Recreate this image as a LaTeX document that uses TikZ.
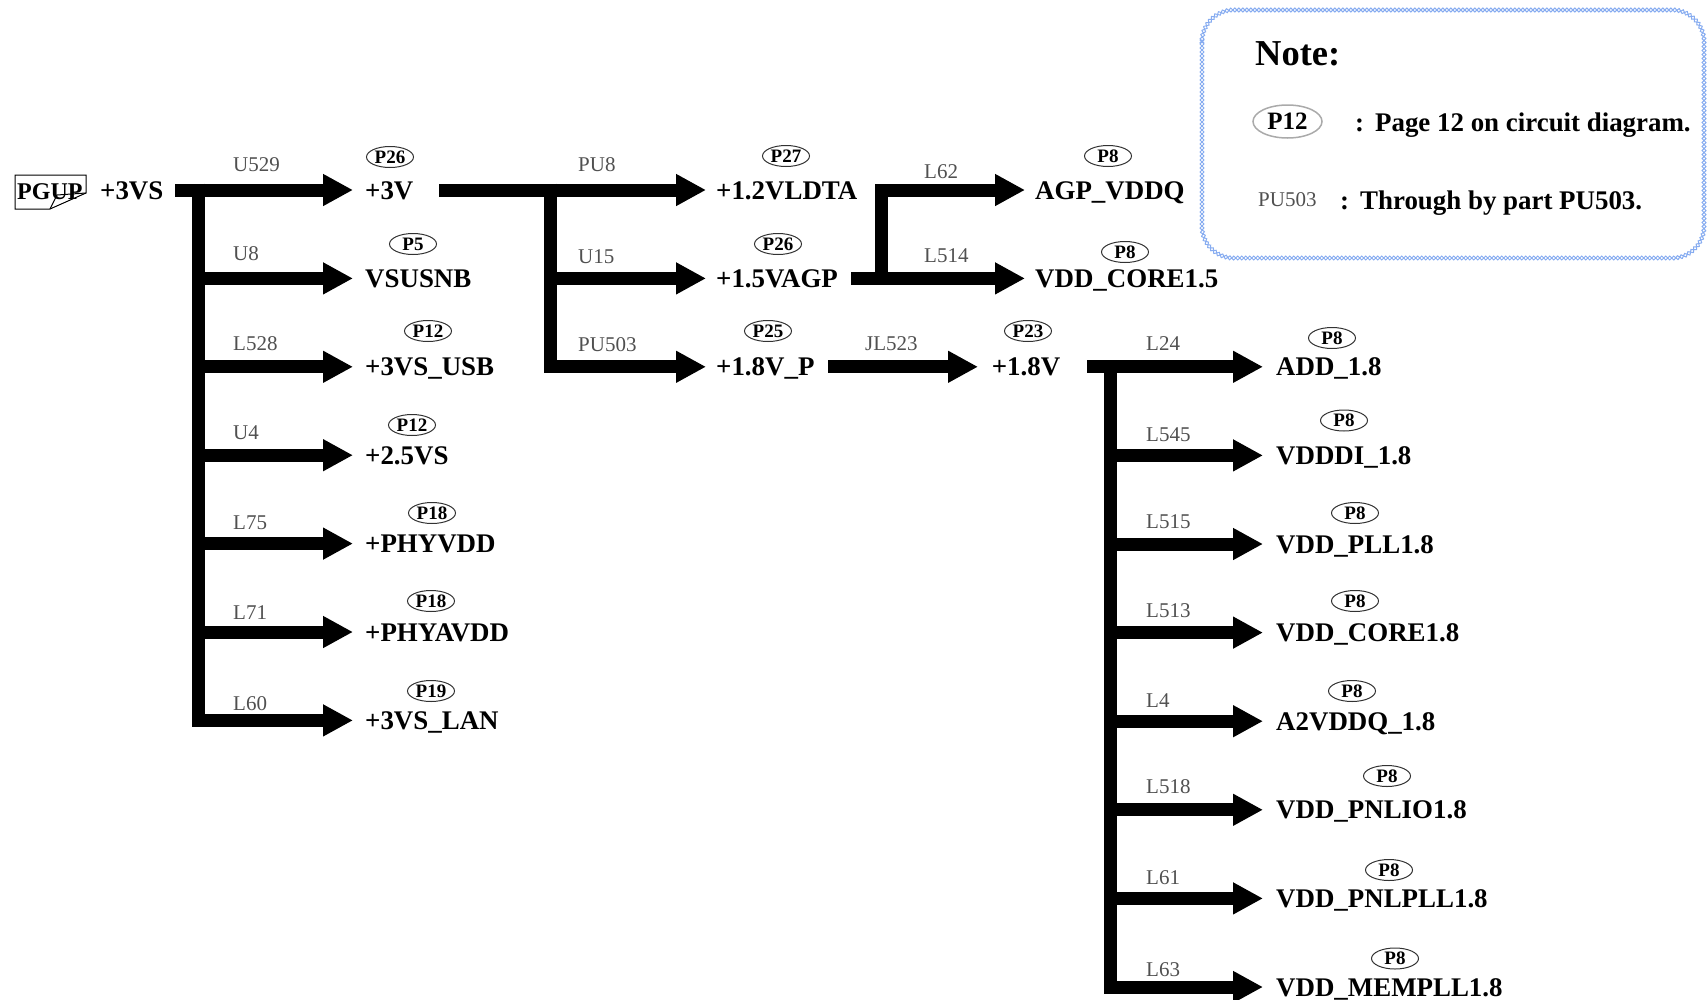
\documentclass[tikz,border=0pt]{standalone}
\usepackage{fontspec}
\setmainfont{Liberation Serif}
\usetikzlibrary{arrows.meta,shapes.geometric,decorations.shapes}
\definecolor{labgray}{RGB}{80,80,80}
\definecolor{notebl}{RGB}{135,172,240}
\definecolor{tagln}{RGB}{50,50,50}
\definecolor{notegray}{RGB}{170,170,170}
\begin{document}
\begin{tikzpicture}[x=1pt,y=-1pt,
  bar/.style={line width=13pt},
  arr/.style={line width=13pt,-{Triangle[length=30pt,width=30pt]}},
  tgt/.style={anchor=west,inner sep=0pt,text height=18pt,text depth=0pt,font=\fontsize{26.9}{30}\selectfont\bfseries},
  lab/.style={anchor=west,inner sep=0pt,text height=14pt,text depth=0pt,text=labgray,font=\fontsize{21}{24}\selectfont},
  tag/.style={ellipse,draw=tagln,line width=1pt,inner sep=0pt,minimum width=47pt,minimum height=21pt,font=\fontsize{19}{20}\selectfont\bfseries}]
\useasboundingbox (0,0) rectangle (1708,999);

% ---------- source ----------
\draw[line width=1pt] (15,175) -- (86,175) -- (86,193) -- (50,209) -- (15,209) -- cycle;
\draw[line width=1pt] (50,209) -- (57,195) -- (86,193);
\node[tgt,font=\fontsize{24}{26}\selectfont\bfseries,text height=16pt] (pgup) at (17,191) {PGUP};
\node[tgt] (vs) at (100,190) {+3VS};
\coordinate (s1) at (175,190);
\coordinate (j1) at (198,190);

% ---------- column 1 ----------
\node[tgt] (a1) at (365,190) {+3V};
\node[tgt] (a2) at (365,278.4) {VSUSNB};
\node[tgt] (a3) at (365,366.8) {+3VS\_USB};
\node[tgt] (a4) at (365,455.2) {+2.5VS};
\node[tgt] (a5) at (365,543.6) {+PHYVDD};
\node[tgt] (a6) at (365,632) {+PHYAVDD};
\node[tgt] (a7) at (365,720.4) {+3VS\_LAN};
\draw[bar] (198,183.5) -- (198,726.9);
\draw[arr] (s1) -- ([xshift=-12pt]a1.west);
\foreach \n in {a2,a3,a4,a5,a6,a7}
  \draw[arr] (j1 |- \n.west) -- ([xshift=-12pt]\n.west);
\node[lab] (la1) at (233,164) {U529};
\node[lab] (la2) at (233,253) {U8};
\node[lab] (la3) at (233,343) {L528};
\node[lab] (la4) at (233,432) {U4};
\node[lab] (la5) at (233,522) {L75};
\node[lab] (la6) at (233,612) {L71};
\node[lab] (la7) at (233,703) {L60};
\node[tag] (ta1) at (390,157) {P26};
\node[tag] (ta2) at (413,244) {P5};
\node[tag] (ta3) at (428,331) {P12};
\node[tag] (ta4) at (412,425) {P12};
\node[tag] (ta5) at (432,513) {P18};
\node[tag] (ta6) at (431,601) {P18};
\node[tag] (ta7) at (431,691) {P19};

% ---------- column 2 ----------
\coordinate (s2) at (439,190);
\coordinate (j2) at (550.5,190);
\node[tgt] (b1) at (716,190) {+1.2VLDTA};
\node[tgt] (b2) at (716,278.4) {+1.5VAGP};
\node[tgt] (b3) at (716,366.8) {+1.8V\_P};
\draw[bar] (550.5,183.5) -- (550.5,373.3);
\draw[arr] (s2) -- ([xshift=-10pt]b1.west);
\draw[arr] (j2 |- b2.west) -- ([xshift=-10pt]b2.west);
\draw[arr] (j2 |- b3.west) -- ([xshift=-10pt]b3.west);
\node[lab] (lb1) at (578,164) {PU8};
\node[lab] (lb2) at (578,256) {U15};
\node[lab] (lb3) at (578,344) {PU503};
\node[tag] (tb1) at (786,156) {P27};
\node[tag] (tb2) at (778,244) {P26};
\node[tag] (tb3) at (768,331) {P25};

% ---------- column 3 ----------
\coordinate (s3) at (851,278.4);
\coordinate (j3) at (881.5,190);
\node[tgt] (c1) at (1035,190) {AGP\_VDDQ};
\node[tgt] (c2) at (1035,278.4) {VDD\_CORE1.5};
\draw[bar] (881.5,284.9) -- (881.5,183.5);
\draw[arr] (s3) -- ([xshift=-10pt]c2.west);
\draw[arr] (j3) -- ([xshift=-10pt]c1.west);
\node[lab] (lc1) at (924,171) {L62};
\node[lab] (lc2) at (924,255) {L514};
\node[tag] (tc1) at (1108,156) {P8};
\node[tag] (tc2) at (1125,252) {P8};

% ---------- +1.8V ----------
\coordinate (s4) at (828,366.8);
\node[tgt] (d1) at (991.7,366.8) {+1.8V};
\draw[arr] (s4) -- ([xshift=-13.7pt]d1.west);
\node[lab] (ld1) at (865,343) {JL523};
\node[tag] (td1) at (1028,331) {P23};

% ---------- column 4 ----------
\coordinate (s5) at (1087,366.8);
\coordinate (j5) at (1110,366.8);
\node[tgt] (e1) at (1276,366.8) {ADD\_1.8};
\node[tgt] (e2) at (1276,455.4) {VDDDI\_1.8};
\node[tgt] (e3) at (1276,544) {VDD\_PLL1.8};
\node[tgt] (e4) at (1276,632.6) {VDD\_CORE1.8};
\node[tgt] (e5) at (1276,721.2) {A2VDDQ\_1.8};
\node[tgt] (e6) at (1276,809.8) {VDD\_PNLIO1.8};
\node[tgt] (e7) at (1276,898.4) {VDD\_PNLPLL1.8};
\node[tgt] (e8) at (1276,987) {VDD\_MEMPLL1.8};
\draw[bar] (1110,360.3) -- (1110,993.5);
\draw[arr] (s5) -- ([xshift=-13pt]e1.west);
\foreach \n in {e2,e3,e4,e5,e6,e7,e8}
  \draw[arr] (j5 |- \n.west) -- ([xshift=-13pt]\n.west);
\node[lab] (le1) at (1146,343) {L24};
\node[lab] (le2) at (1146,434.6) {L545};
\node[lab] (le3) at (1146,521.8) {L515};
\node[lab] (le4) at (1146,610) {L513};
\node[lab] (le5) at (1146,700.4) {L4};
\node[lab] (le6) at (1146,786.5) {L518};
\node[lab] (le7) at (1146,877.5) {L61};
\node[lab] (le8) at (1146,969) {L63};
\node[tag] (te1) at (1332,338) {P8};
\node[tag] (te2) at (1344,420.5) {P8};
\node[tag] (te3) at (1355,513) {P8};
\node[tag] (te4) at (1355,601) {P8};
\node[tag] (te5) at (1352,691) {P8};
\node[tag] (te6) at (1387,776) {P8};
\node[tag] (te7) at (1389,870) {P8};
\node[tag] (te8) at (1395,958.5) {P8};

% ---------- note ----------
\draw[notebl,line width=1pt,rounded corners=32pt,decorate,decoration={crosses,segment length=4pt,shape size=4.5pt}] (1202,10) rectangle (1704,258);
\node[tgt,font=\fontsize{36.5}{40}\selectfont\bfseries,text height=25pt] (note) at (1255,53) {Note:};
\node[ellipse,draw=notegray,line width=1.5pt,inner sep=0pt,minimum width=69pt,minimum height=33pt,font=\fontsize{25}{28}\selectfont\bfseries] (np12) at (1287.5,121.5) {P12};
\node[tgt] (nt1) at (1355,122) {:\hspace{11pt}Page 12 on circuit diagram.};
\node[lab] (npu) at (1258,199) {PU503};
\node[tgt] (nt2) at (1340,200) {:\hspace{11pt}Through by part PU503.};
\end{tikzpicture}
\end{document}
